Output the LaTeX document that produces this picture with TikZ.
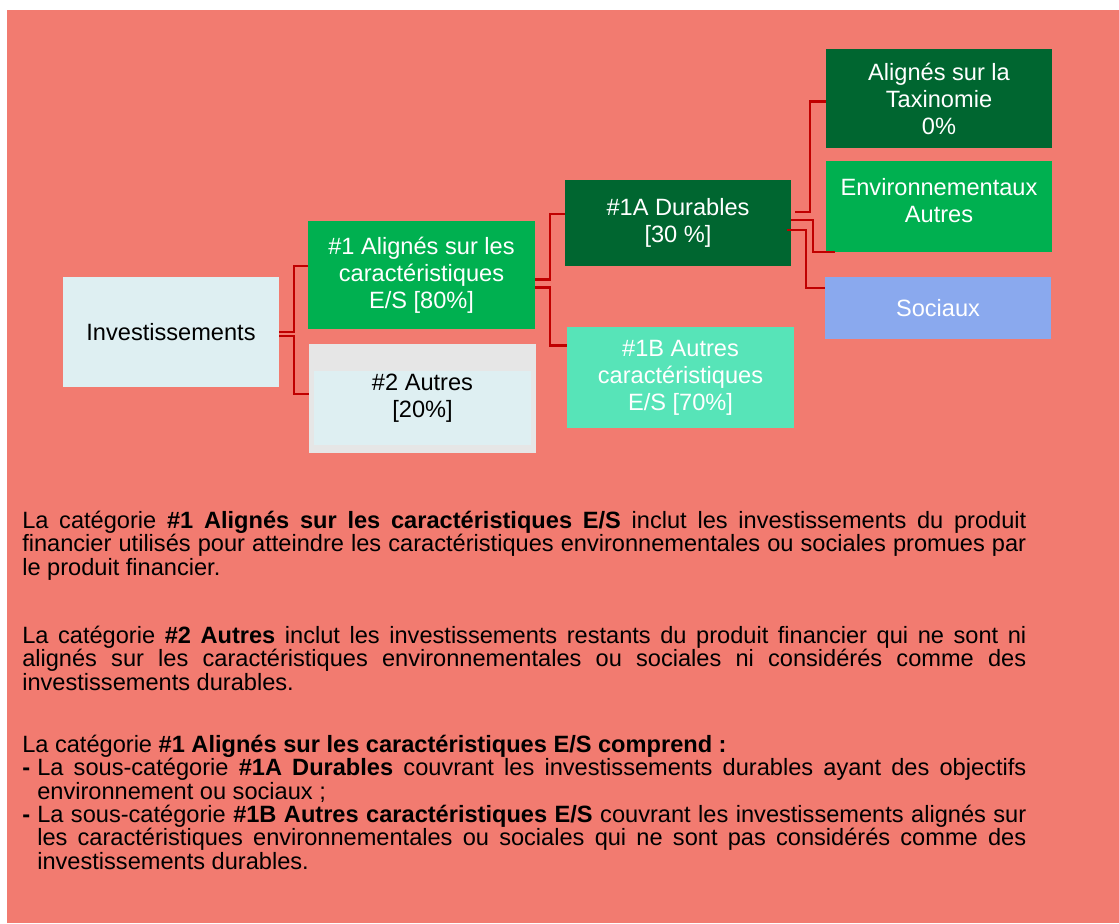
\documentclass[tikz,border=0pt]{standalone}
\usepackage{fontspec}
\setmainfont{Liberation Sans}
\usepackage{xcolor}
\definecolor{saumon}{HTML}{F27B70}
\definecolor{bleuclair}{HTML}{DEEFF2}
\definecolor{vert}{HTML}{00B050}
\definecolor{vertfonce}{HTML}{006630}
\definecolor{turquoise}{HTML}{57E4B8}
\definecolor{bleu}{HTML}{8AA9EE}
\definecolor{gris}{HTML}{E6E6E6}
\definecolor{rouge}{HTML}{C00000}

\begin{document}
\begin{tikzpicture}[x=0.75pt, y=-0.75pt,
            boite/.style={rectangle, inner sep=0pt, align=center, text=white,
                font=\fontsize{17.7pt}{20.25pt}\selectfont},
            lien/.style={draw=rouge, line width=1.6pt},
            texte/.style={anchor=north west, inner sep=0pt, text width=753pt, align=justify,
                font=\fontsize{17.7pt}{17.5pt}\selectfont}]
            \useasboundingbox (0,0) rectangle (1119,923);
            \fill[saumon] (7,10) rectangle (1119,923);

            \node[boite, fill=bleuclair, text=black, minimum width=162pt, minimum height=82.5pt] (invest) at (171,332) {Investissements};
            \node[boite, fill=vert, minimum width=170.25pt, minimum height=81pt] (alignes) at (421.5,275) {\#1 Alignés sur les\\caractéristiques\\E/S [80\%]};
            \node[boite, fill=gris, text=black, minimum width=170.25pt, minimum height=81.75pt,
                path picture={\fill[bleuclair] ([shift={(3.75pt,-20.25pt)}]path picture bounding box.north west) rectangle ([shift={(-3.75pt,6pt)}]path picture bounding box.south east);}] (autres) at (422.5,398.5) {\#2 Autres\\{}[20\%]};
            \node[boite, fill=vertfonce, minimum width=169.5pt, minimum height=64.5pt] (durables) at (678,223) {\#1A Durables\\{}[30 \%]};
            \node[boite, fill=turquoise, minimum width=170.25pt, minimum height=75.75pt] (autresES) at (680.5,377.5) {\#1B Autres\\caractéristiques\\E/S [70\%]};
            \node[boite, fill=vertfonce, minimum width=169.5pt, minimum height=74.25pt] (taxo) at (939,98.5) {Alignés sur la\\Taxinomie\\0\%};
            \node[boite, fill=vert, minimum width=169.5pt, minimum height=68.25pt, text depth=9pt] (env) at (939,206.5) {Environnementaux\\Autres};
            \node[boite, fill=bleu, minimum width=169.5pt, minimum height=46.5pt] (sociaux) at (938,308) {Sociaux};

            \draw[lien] (invest.east) -- ++(15,0) |- ([shift={(0,-9)}]alignes.west);
            \draw[lien] ([shift={(0,4)}]invest.east) -- ++(15,0) |- ([shift={(0,-4.5)}]autres.west);
            \draw[lien] ([shift={(0,4.5)}]alignes.east) -- ++(15,0) |- ([shift={(0,-9.3)}]durables.west);
            \draw[lien] ([shift={(0,12.5)}]alignes.east) -- ++(15,0) |- ([shift={(0,-32)}]autresES.west);
            \draw[lien] ([shift={(4,-11.3)}]durables.east) -- ++(15,0) |- ([shift={(0,3)}]taxo.west);
            \draw[lien] ([shift={(0,-3)}]durables.east) -- ++(22,0) |- ([shift={(9,0)}]env.south west);
            \draw[lien] ([shift={(-4,7)}]durables.east) -- ++(19,0) |- ([shift={(0,-20)}]sociaux.west);

            \node[texte] (para1) at (22,511) {La catégorie \textbf{\#1 Alignés sur les caractéristiques E/S} inclut les investissements du produit\linebreak financier utilisés pour atteindre les caractéristiques environnementales ou sociales promues par\linebreak le produit financier.\par};
            \node[texte] (para2) at (22,626) {La catégorie \textbf{\#2 Autres} inclut les investissements restants du produit financier qui ne sont ni\linebreak alignés sur les caractéristiques environnementales ou sociales ni considérés comme des\linebreak investissements durables.\par};
            \node[texte] (para3) at (22,735) {La catégorie \textbf{\#1 Alignés sur les caractéristiques E/S comprend :}\par
                \hangindent=11.25pt\hangafter=1\noindent\makebox[11.25pt][l]{\textbf{-}}La sous-catégorie \textbf{\#1A Durables} couvrant les investissements durables ayant des objectifs\linebreak environnement ou sociaux ;\par
                \hangindent=11.25pt\hangafter=1\noindent\makebox[11.25pt][l]{\textbf{-}}La sous-catégorie \textbf{\#1B Autres caractéristiques E/S} couvrant les investissements alignés sur\linebreak les caractéristiques environnementales ou sociales qui ne sont pas considérés comme des\linebreak investissements durables.\par};
\end{tikzpicture}
\end{document}
